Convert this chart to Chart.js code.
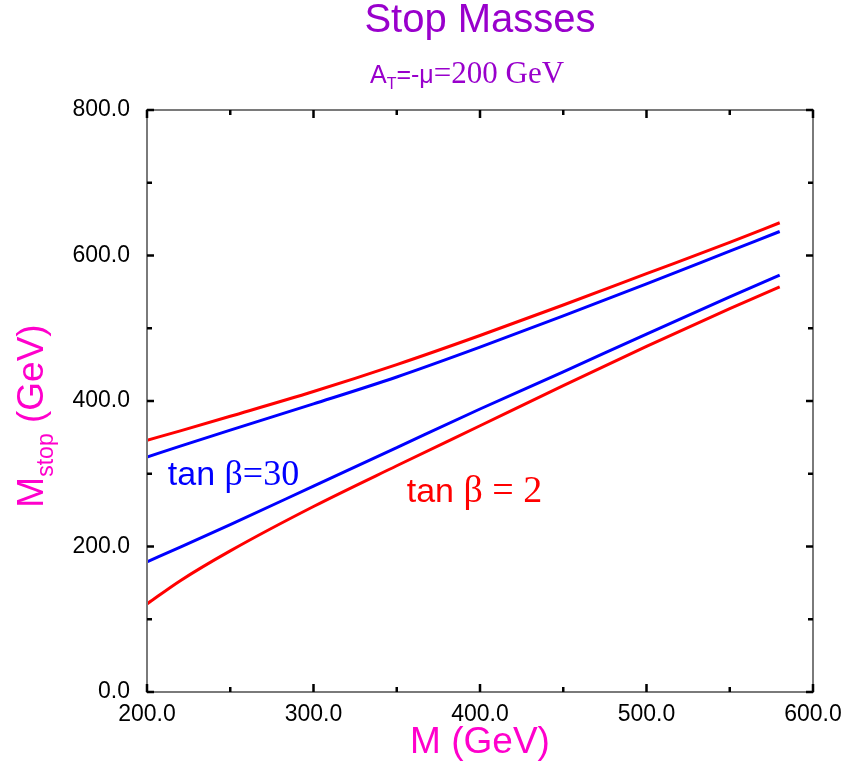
<!DOCTYPE html>
<html>
<head>
<meta charset="utf-8">
<script src="https://cdn.jsdelivr.net/npm/chart.js@4.4.1/dist/chart.umd.min.js"></script>
<style>
  body { margin: 0; background: #fff; }
  #wrap { width: 848px; height: 768px; }
</style>
</head>
<body>
<div id="wrap"><canvas id="stopChart" width="848" height="768"></canvas></div>
<script>
// values (GeV)
var massM = [200, 220, 250, 300, 350, 400, 450, 500, 550, 580];
var stop2Tan2 = [346, 359, 379, 413, 450, 490, 532, 575, 618, 645];   // upper red
var stop2Tan30 = [323, 338, 360, 396, 433, 474, 517, 561, 606, 633];  // upper blue
var stop1Tan30 = [179, 199, 230, 283, 336, 389, 440, 492, 543, 573];  // lower blue
var stop1Tan2 = [121, 153, 194, 255, 311, 366, 421, 475, 527, 557];   // lower red

var xMajorTicks = [200, 300, 400, 500, 600];
var yMajorTicks = [0, 200, 400, 600, 800];

var sans = "'Liberation Sans', Arial, sans-serif";
var serif = "'Liberation Serif', 'Times New Roman', serif";
var purple = "#9900cc";
var magenta = "#ff00cc";

function toPoints(ys) {
	var pts = [];
	for (var i = 0; i < massM.length; i++) {
		pts.push({x: massM[i], y: ys[i]});
	}
	return pts;
}

function lineSet(label, ys, color) {
	return {
		label: label,
		data: toPoints(ys),
		borderColor: color,
		borderWidth: 3,
		pointRadius: 0,
		fill: false,
		cubicInterpolationMode: "monotone"
	};
}

// draws a run of text pieces, each with its own font and baseline shift
function drawPieces(ctx, pieces, x, y, align) {
	var total = 0;
	pieces.forEach(function(p){
		ctx.font = p.font;
		total += ctx.measureText(p.text).width;
	});
	var cx = align == "center" ? x - total / 2 : x;
	pieces.forEach(function(p){
		ctx.font = p.font;
		ctx.fillText(p.text, cx, y + (p.dy || 0));
		cx += ctx.measureText(p.text).width;
	});
}

var framePlugin = {
	id: "frame",
	afterDraw: function(chart) {
		var ctx = chart.ctx;
		var area = chart.chartArea;
		var xs = chart.scales.x, ys = chart.scales.y;
		ctx.save();

		// frame
		ctx.strokeStyle = "#7a7a7a";
		ctx.lineWidth = 2;
		ctx.strokeRect(area.left, area.top, area.right - area.left, area.bottom - area.top);

		// inward ticks on all four sides
		ctx.strokeStyle = "#000";
		ctx.lineWidth = 2.5;
		xs.ticks.forEach(function(t){
			var px = xs.getPixelForValue(t.value);
			var len = xMajorTicks.indexOf(t.value) >= 0 ? 8 : 5;
			ctx.beginPath();
			ctx.moveTo(px, area.bottom); ctx.lineTo(px, area.bottom - len);
			ctx.moveTo(px, area.top); ctx.lineTo(px, area.top + len);
			ctx.stroke();
		});
		ys.ticks.forEach(function(t){
			var py = ys.getPixelForValue(t.value);
			var len = yMajorTicks.indexOf(t.value) >= 0 ? 7 : 5;
			ctx.beginPath();
			ctx.moveTo(area.left, py); ctx.lineTo(area.left + len, py);
			ctx.moveTo(area.right, py); ctx.lineTo(area.right - len, py);
			ctx.stroke();
		});

		var midX = (area.left + area.right) / 2;
		ctx.textBaseline = "alphabetic";
		ctx.textAlign = "left";

		// title and subtitle
		ctx.fillStyle = purple;
		drawPieces(ctx, [{text: "Stop Masses", font: "40px " + sans}], midX, 32, "center");
		drawPieces(ctx, [
			{text: "A", font: "25px " + sans},
			{text: "T", font: "16px " + sans, dy: 6},
			{text: "=-\u03bc", font: "25px " + sans},
			{text: "=200 GeV", font: "31px " + serif}
		], midX - 13, 83, "center");

		// x axis title
		ctx.fillStyle = magenta;
		drawPieces(ctx, [{text: "M (GeV)", font: "37px " + sans}], midX, 753, "center");

		// y axis title, rotated
		ctx.save();
		ctx.translate(43, (area.top + area.bottom) / 2 + 15);
		ctx.rotate(-Math.PI / 2);
		drawPieces(ctx, [
			{text: "M", font: "37px " + sans},
			{text: "stop", font: "23px " + sans, dy: 10},
			{text: " (GeV)", font: "37px " + sans}
		], 0, 0, "center");
		ctx.restore();

		// curve labels, anchored in data coordinates
		ctx.fillStyle = "#0000ff";
		drawPieces(ctx, [
			{text: "tan ", font: "34px " + sans},
			{text: "\u03b2=30", font: "36px " + serif}
		], xs.getPixelForValue(212.5), ys.getPixelForValue(284), "left");
		ctx.fillStyle = "#ff0000";
		drawPieces(ctx, [
			{text: "tan ", font: "34px " + sans},
			{text: "\u03b2 = 2", font: "38px " + serif}
		], xs.getPixelForValue(356), ys.getPixelForValue(261), "left");

		ctx.restore();
	}
};

var chart = new Chart(document.getElementById("stopChart").getContext("2d"), {
	type: "line",
	data: {
		datasets: [
			lineSet("upper tan b = 2", stop2Tan2, "#ff0000"),
			lineSet("upper tan b = 30", stop2Tan30, "#0000ff"),
			lineSet("lower tan b = 30", stop1Tan30, "#0000ff"),
			lineSet("lower tan b = 2", stop1Tan2, "#ff0000")
		]
	},
	options: {
		responsive: false,
		animation: false,
		layout: { padding: {left: 0, top: 110, right: 35, bottom: 0} },
		plugins: {
			legend: { display: false },
			tooltip: { enabled: false }
		},
		scales: {
			x: {
				type: "linear",
				min: 200,
				max: 600,
				grid: { display: false, drawTicks: false },
				border: { display: false },
				ticks: {
					stepSize: 50,
					maxRotation: 0,
					autoSkip: false,
					padding: 9,
					color: "#000",
					font: { family: sans, size: 23 },
					callback: function(v){ return xMajorTicks.indexOf(v) >= 0 ? v.toFixed(1) : ""; }
				},
				afterFit: function(scale){
					scale.height = 76;
					scale.paddingLeft = 0;
					scale.paddingRight = 0;
				}
			},
			y: {
				type: "linear",
				min: 0,
				max: 800,
				grid: { display: false, drawTicks: false },
				border: { display: false },
				ticks: {
					stepSize: 100,
					autoSkip: false,
					padding: 17,
					color: "#000",
					font: { family: sans, size: 23 },
					callback: function(v){ return yMajorTicks.indexOf(v) >= 0 ? v.toFixed(1) : ""; }
				},
				afterFit: function(scale){
					scale.width = 147;
					scale.paddingTop = 0;
					scale.paddingBottom = 0;
				}
			}
		}
	},
	plugins: [framePlugin]
});
</script>
</body>
</html>
